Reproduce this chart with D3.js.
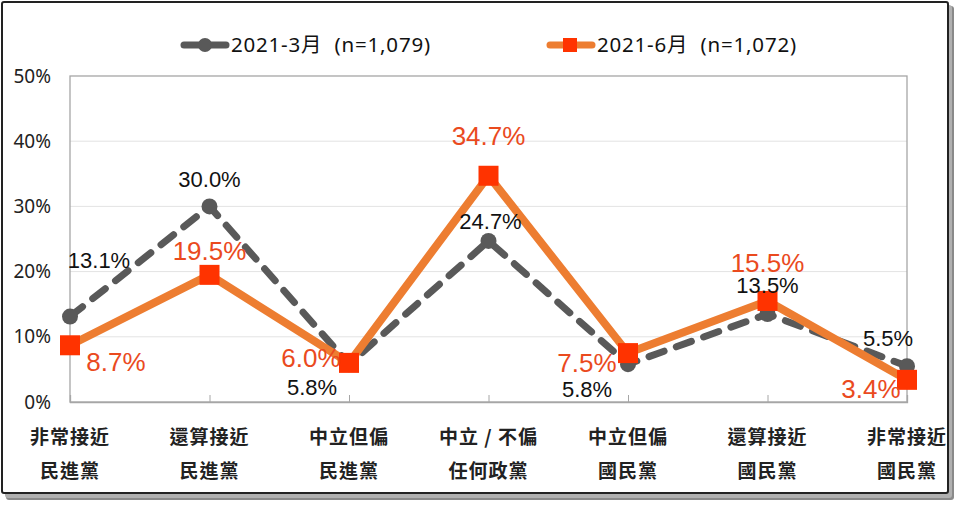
<!DOCTYPE html>
<html><head><meta charset="utf-8">
<script src="https://cdn.jsdelivr.net/npm/d3@7"></script>
<style>
html,body{margin:0;padding:0;background:#fff;}
svg{display:block;}
</style></head>
<body>
<svg id="chart" width="960" height="530"></svg>
<script>
const categoriesLine1 = ["非常接近","還算接近","中立但偏","中立 / 不偏","中立但偏","還算接近","非常接近"];
const categoriesLine2 = ["民進黨","民進黨","民進黨","任何政黨","國民黨","國民黨","國民黨"];
const seriesNames = ["2021-3月  (n=1,079)","2021-6月  (n=1,072)"];
const march = [13.1, 30.0, 5.8, 24.7, 5.8, 13.5, 5.5];
const june = [8.7, 19.5, 6.0, 34.7, 7.5, 15.5, 3.4];
const yTicks = [0, 10, 20, 30, 40, 50];

// label placement offsets (style, not data)
const marchLabelOffsets = [[29,-49],[0,-19],[-37,31],[2,-12],[-41,33],[0,-21],[-19,-20]];
const juneLabelOffsets = [[46,26],[0,-15],[-38,4],[0,-31],[-41,19],[0,-29],[-36,18]];

const svg = d3.select("#chart");

// frame with shadow
svg.append("rect").attr("x",6).attr("y",6).attr("width",948).attr("height",494).attr("rx",3)
  .attr("fill","#8a8a8a");
svg.append("rect").attr("x",5).attr("y",5).attr("width",947).attr("height",493).attr("rx",3)
  .attr("fill","#b0b0b0");
svg.append("rect").attr("x",2).attr("y",2).attr("width",946).attr("height",491).attr("rx",2)
  .attr("fill","#fff").attr("stroke","#222").attr("stroke-width",2);

const x = d3.scalePoint().domain(d3.range(categoriesLine1.length)).range([70, 907]);
const y = d3.scaleLinear().domain([0, 50]).range([402, 76]);

const g = svg.append("g");

// gridlines
g.selectAll("line.grid").data(yTicks.filter(t => t > 0 && t < 50)).enter().append("line")
  .attr("x1", 70).attr("x2", 907).attr("y1", d => y(d)).attr("y2", d => y(d))
  .attr("stroke", "#e3e3e3").attr("stroke-width", 1);

// plot border
g.append("rect").attr("x",70).attr("y",y(50)).attr("width",907-70).attr("height",y(0)-y(50))
  .attr("fill","none").attr("stroke","#a6a6a6").attr("stroke-width",1.3);

// y axis
const yAxis = d3.axisLeft(y).tickValues(yTicks).tickFormat(d => d + "%").tickSize(0).tickPadding(19);
const ya = g.append("g").attr("transform","translate(70,0)").call(yAxis);
ya.select(".domain").remove();
ya.selectAll("text").attr("font-family","'Noto Sans','Open Sans',sans-serif").attr("font-size",19).attr("fill","#222");

// x axis ticks (inside)
const xAxis = d3.axisBottom(x).tickSize(-7).tickFormat("");
const xa = g.append("g").attr("transform",`translate(0,${y(0)})`).call(xAxis);
xa.select(".domain").attr("stroke","#a6a6a6").attr("stroke-width",1.3);
xa.selectAll(".tick line").attr("stroke","#a6a6a6");

// category labels
const catG = g.append("g");
categoriesLine1.forEach((c, i) => {
  const t = catG.append("text").attr("x", x(i)).attr("text-anchor","middle")
    .attr("font-family","'Noto Sans CJK TC',sans-serif").attr("font-size",19).attr("font-weight",700)
    .attr("letter-spacing",1).attr("fill","#222");
  t.append("tspan").attr("x", x(i)).attr("y", 444).text(c);
  t.append("tspan").attr("x", x(i)).attr("y", 478).text(categoriesLine2[i]);
});

// lines
const line = d3.line().x((d,i) => x(i)).y(d => y(d));
g.append("path").datum(march).attr("d", line).attr("fill","none")
  .attr("stroke","#595959").attr("stroke-width",7).attr("stroke-dasharray","16,13")
  .attr("stroke-linecap","round");
g.selectAll("circle.m").data(march).enter().append("circle")
  .attr("cx",(d,i)=>x(i)).attr("cy",d=>y(d)).attr("r",8).attr("fill","#595959");

g.append("path").datum(june).attr("d", line).attr("fill","none")
  .attr("stroke","#ED7D31").attr("stroke-width",8).attr("stroke-linejoin","miter");
const sq = 20;
g.selectAll("rect.j").data(june).enter().append("rect")
  .attr("x",(d,i)=>x(i)-sq/2).attr("y",d=>y(d)-sq/2).attr("width",sq).attr("height",sq)
  .attr("fill","#FF3300");

// labels
g.selectAll("text.ml").data(march).enter().append("text")
  .attr("x",(d,i)=>x(i)+marchLabelOffsets[i][0]).attr("y",(d,i)=>y(d)+marchLabelOffsets[i][1])
  .attr("text-anchor","middle").attr("font-family","'Liberation Sans',Arial,sans-serif")
  .attr("font-size",22).attr("fill","#111").text(d => d.toFixed(1) + "%");
g.selectAll("text.jl").data(june).enter().append("text")
  .attr("x",(d,i)=>x(i)+juneLabelOffsets[i][0]).attr("y",(d,i)=>y(d)+juneLabelOffsets[i][1])
  .attr("text-anchor","middle").attr("font-family","'Liberation Sans',Arial,sans-serif")
  .attr("font-size",26).attr("fill","#EA4A1E").text(d => d.toFixed(1) + "%");

// legend
const leg = svg.append("g");
leg.append("line").attr("x1",184).attr("x2",226).attr("y1",45).attr("y2",45)
  .attr("stroke","#595959").attr("stroke-width",7).attr("stroke-linecap","round");
leg.append("circle").attr("cx",205).attr("cy",45).attr("r",7).attr("fill","#595959");
leg.append("text").attr("x",231).attr("y",52).attr("font-family","'Noto Sans','Noto Sans CJK TC',sans-serif")
  .attr("font-size",20.5).attr("letter-spacing",0.8).attr("fill","#111").style("white-space","pre").text(seriesNames[0]);
leg.append("line").attr("x1",550).attr("x2",592).attr("y1",45).attr("y2",45)
  .attr("stroke","#ED7D31").attr("stroke-width",7).attr("stroke-linecap","round");
leg.append("rect").attr("x",563).attr("y",38).attr("width",14).attr("height",14).attr("fill","#FF3300");
leg.append("text").attr("x",597).attr("y",52).attr("font-family","'Noto Sans','Noto Sans CJK TC',sans-serif")
  .attr("font-size",20.5).attr("letter-spacing",0.8).attr("fill","#111").style("white-space","pre").text(seriesNames[1]);
</script>
</body></html>
